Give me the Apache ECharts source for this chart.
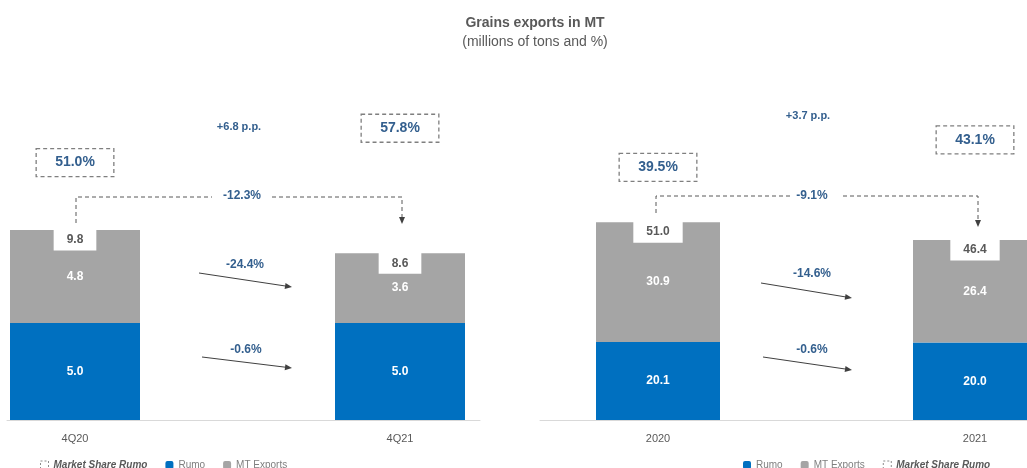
<!DOCTYPE html>
<html>
<head>
<meta charset="utf-8">
<style>
  html, body { margin: 0; padding: 0; background: #ffffff; }
  #chart { width: 1027px; height: 468px; }
</style>
<script src="https://cdn.jsdelivr.net/npm/echarts@6/dist/echarts.min.js"></script>
</head>
<body>
<div id="chart"></div>
<script>
// Quarterly panel (4Q20 vs 4Q21)
const periodsQuarter = ['4Q20', '4Q21'];
const rumoQuarter = [5.0, 5.0];
const mtOtherQuarter = [4.8, 3.6];
const totalQuarter = [9.8, 8.6];
const shareQuarter = [51.0, 57.8];
const changesQuarter = { share: '+6.8 p.p.', total: '-12.3%', other: '-24.4%', rumo: '-0.6%' };

// Yearly panel (2020 vs 2021)
const periodsYear = ['2020', '2021'];
const rumoYear = [20.1, 20.0];
const mtOtherYear = [30.9, 26.4];
const totalYear = [51.0, 46.4];
const shareYear = [39.5, 43.1];
const changesYear = { share: '+3.7 p.p.', total: '-9.1%', other: '-14.6%', rumo: '-0.6%' };

const FONT = '"Liberation Sans", Arial, sans-serif';
const BLUE = '#0070C0';
const GRAY = '#A5A5A5';
const TEXT_DARK = '#595959';
const TEXT_BLUE = '#335F8E';
const LINE_DARK = '#404040';

// slot positions along each panel's value x-axis (1 = first period, 2 = second)
const slots = [1, 2];
// rows are [value, slot]; the value comes first so stacking happens on y
const rows = (vals) => vals.map((v, i) => [v, slots[i]]);
const ENC = { x: 1, y: 0 };
const fmt1 = (d) => d.value[0].toFixed(1);

function panelSeries(p) {
  const base = { xAxisIndex: p.x, yAxisIndex: p.y, encode: ENC };
  const inLabel = { show: true, position: 'inside', color: '#ffffff', fontWeight: 'bold',
                    fontSize: 12, fontFamily: FONT, formatter: fmt1 };
  return [
    Object.assign({
      name: 'Rumo', type: 'bar', stack: 'mt' + p.x, barWidth: p.barWidth,
      data: rows(p.rumo), itemStyle: { color: BLUE }, label: inLabel
    }, base),
    Object.assign({
      name: 'MT Exports', type: 'bar', stack: 'mt' + p.x, barWidth: p.barWidth,
      data: rows(p.other), itemStyle: { color: GRAY }, label: inLabel
    }, base),
    Object.assign({
      name: 'Total', type: 'scatter', symbolSize: 1, silent: true,
      data: rows(p.total),
      itemStyle: { color: 'rgba(0,0,0,0)', opacity: 1 },
      label: { show: true, position: 'inside', offset: [0, 10], color: TEXT_DARK,
               fontWeight: 'bold', fontSize: 12, fontFamily: FONT,
               backgroundColor: '#ffffff', padding: [5, 13, 4, 13], formatter: fmt1 },
      z: 5
    }, base),
    {
      name: 'Market Share Rumo', type: 'scatter', symbolSize: 1, silent: true,
      xAxisIndex: p.x, yAxisIndex: p.y + 1, encode: ENC,
      data: rows(p.share),
      itemStyle: { color: 'rgba(0,0,0,0)', opacity: 1 },
      label: { show: true, position: 'inside', color: TEXT_BLUE, fontWeight: 'bold',
               fontSize: 14, fontFamily: FONT, padding: [7, 19, 7, 19],
               borderColor: '#7F7F7F', borderWidth: 1.3, borderType: [4, 3],
               formatter: (d) => d.value[0].toFixed(1) + '%' },
      z: 5
    }
  ];
}

function periodAxis(gridIndex, min, max, names) {
  return {
    type: 'value', gridIndex: gridIndex, min: min, max: max,
    axisLine: { show: true, lineStyle: { color: '#D9D9D9', width: 1 } },
    axisTick: { show: false },
    splitLine: { show: false },
    axisLabel: {
      customValues: slots, margin: 13, color: TEXT_DARK, fontSize: 11, fontFamily: FONT,
      formatter: (v) => names[Math.round(v) - 1] || ''
    }
  };
}

function hiddenY(gridIndex, min, max) {
  return { type: 'value', gridIndex: gridIndex, min: min, max: max, show: false, splitLine: { show: false } };
}

// annotation helpers: solid arrow, dashed bracket connector, bold caption
function arrowHead(x1, y1, x2, y2, color) {
  const a = Math.atan2(y2 - y1, x2 - x1), L = 7, W = 3;
  const bx = x2 - L * Math.cos(a), by = y2 - L * Math.sin(a);
  return {
    type: 'polygon', silent: true,
    shape: { points: [[x2, y2], [bx + W * Math.sin(a), by - W * Math.cos(a)], [bx - W * Math.sin(a), by + W * Math.cos(a)]] },
    style: { fill: color }
  };
}
function arrow(x1, y1, x2, y2) {
  const a = Math.atan2(y2 - y1, x2 - x1);
  return [
    { type: 'line', silent: true,
      shape: { x1: x1, y1: y1, x2: x2 - 5 * Math.cos(a), y2: y2 - 5 * Math.sin(a) },
      style: { stroke: LINE_DARK, lineWidth: 1 } },
    arrowHead(x1, y1, x2, y2, LINE_DARK)
  ];
}
function dashed(points) {
  return { type: 'polyline', silent: true, shape: { points: points },
           style: { stroke: TEXT_DARK, lineWidth: 1, lineDash: [4, 3], fill: null } };
}
function caption(text, x, y, size) {
  return { type: 'text', silent: true, x: x, y: y,
           style: { text: text, fill: TEXT_BLUE, font: 'bold ' + (size || 12) + 'px ' + FONT,
                    align: 'center', verticalAlign: 'middle', textAlign: 'center', textVerticalAlign: 'middle' } };
}

const graphics = [].concat(
  // quarterly panel
  caption(changesQuarter.share, 239, 127, 11),
  dashed([[76, 223], [76, 197], [212, 197]]),
  dashed([[272, 197], [402, 197], [402, 217]]),
  arrowHead(402, 210, 402, 224, LINE_DARK),
  caption(changesQuarter.total, 242, 196),
  arrow(199, 273, 292, 287),
  caption(changesQuarter.other, 245, 265),
  arrow(202, 357, 292, 368),
  caption(changesQuarter.rumo, 246, 350),
  // yearly panel
  caption(changesYear.share, 808, 116, 11),
  dashed([[656, 213], [656, 196], [790, 196]]),
  dashed([[843, 196], [978, 196], [978, 220]]),
  arrowHead(978, 213, 978, 227, LINE_DARK),
  caption(changesYear.total, 812, 196),
  arrow(761, 283, 852, 298),
  caption(changesYear.other, 812, 274),
  arrow(763, 357, 852, 370),
  caption(changesYear.rumo, 812, 350)
);

const shareLegendItem = {
  name: 'Market Share Rumo', icon: 'rect',
  itemStyle: { color: '#ffffff', borderColor: '#8C8C8C', borderWidth: 1, borderType: [2, 2] },
  textStyle: { fontStyle: 'italic', fontWeight: 'bold', color: '#595959' }
};
const legendBase = {
  top: 455, itemWidth: 8, itemHeight: 8, itemGap: 18, selectedMode: false,
  textStyle: { color: '#7F7F7F', fontSize: 10, fontFamily: FONT }
};

const chart = echarts.init(document.getElementById('chart'), null, { renderer: 'canvas' });
chart.setOption({
  animation: false,
  backgroundColor: '#ffffff',
  title: {
    text: 'Grains exports in MT',
    subtext: '(millions of tons and %)',
    left: 530, top: 11, textAlign: 'center', itemGap: 5,
    textStyle: { color: TEXT_DARK, fontSize: 14, fontWeight: 'bold', fontFamily: FONT },
    subtextStyle: { color: TEXT_DARK, fontSize: 14, fontFamily: FONT }
  },
  legend: [
    Object.assign({ left: 35, data: [shareLegendItem, 'Rumo', 'MT Exports'] }, legendBase),
    Object.assign({ left: 738, data: ['Rumo', 'MT Exports', shareLegendItem] }, legendBase)
  ],
  grid: [
    { left: 7, top: 100, width: 473, height: 320 },
    { left: 540, top: 100, width: 487, height: 320 }
  ],
  xAxis: [
    periodAxis(0, 1 - 68 / 325, 1 - 68 / 325 + 473 / 325, periodsQuarter),
    periodAxis(1, 1 - 118 / 317, 1 - 118 / 317 + 487 / 317, periodsYear)
  ],
  yAxis: [
    hiddenY(0, 0, 16.5),
    hiddenY(0, 0, 63.4),
    hiddenY(1, 0, 82.5),
    hiddenY(1, 6.5, 48.3)
  ],
  series: [].concat(
    panelSeries({ x: 0, y: 0, barWidth: 130, rumo: rumoQuarter, other: mtOtherQuarter, total: totalQuarter, share: shareQuarter }),
    panelSeries({ x: 1, y: 2, barWidth: 124, rumo: rumoYear, other: mtOtherYear, total: totalYear, share: shareYear })
  ),
  graphic: graphics
});
</script>
</body>
</html>
